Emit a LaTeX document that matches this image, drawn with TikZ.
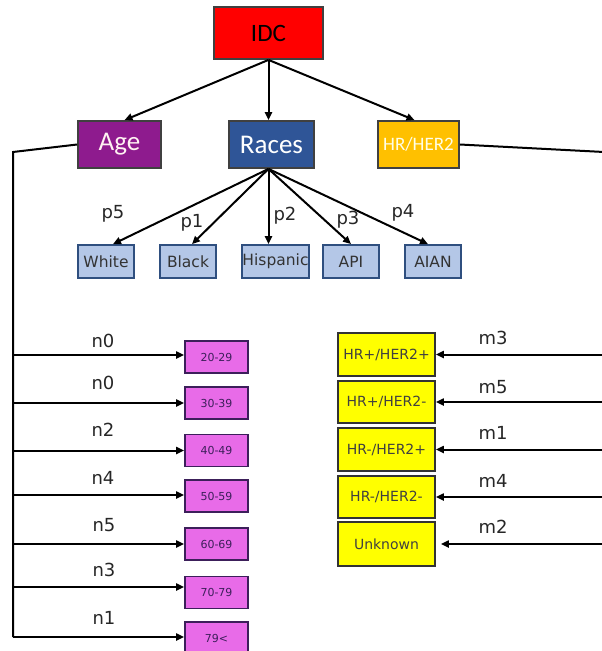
\documentclass[tikz,border=0pt]{standalone}
\usepackage{fontspec}
\setmainfont{Carlito}
\newfontfamily\dvfont{DejaVu Sans}
\usetikzlibrary{arrows.meta}

\definecolor{idcred}{HTML}{FF0000}
\definecolor{agepurple}{HTML}{8E1B8E}
\definecolor{raceblue}{HTML}{2F5597}
\definecolor{hrorange}{HTML}{FFC000}
\definecolor{racefill}{HTML}{B4C7E7}
\definecolor{raceline}{HTML}{2F4F7F}
\definecolor{grpfill}{HTML}{E86BE8}
\definecolor{grpline}{HTML}{3C1F5A}
\definecolor{hrfill}{HTML}{FFFF00}

\begin{document}
\begin{tikzpicture}[x=1pt,y=1pt]
	\tikzstyle{every node}+=[inner sep=0pt]
	\tikzstyle{topbox}=[draw=black!75, line width=1.8pt]
	\tikzstyle{racebox}=[draw=raceline, fill=racefill, line width=1.8pt, minimum width=56, minimum height=33, font=\dvfont\fontsize{15.5}{15.5}\selectfont, text=black!80]
	\tikzstyle{agebox}=[draw=grpline, fill=grpfill, line width=1.8pt, minimum width=63, minimum height=32, font=\dvfont\fontsize{11}{11}\selectfont, text=grpline]
	\tikzstyle{hrbox}=[draw=black!80, fill=hrfill, line width=1.8pt, minimum width=97, minimum height=43, font=\dvfont\fontsize{14}{14}\selectfont, text=black!75]
	\tikzstyle{lbl}=[font=\dvfont\fontsize{18}{18}\selectfont, text=black!85]
	\tikzstyle{arr}=[black, line width=2pt, -{Triangle[length=8pt,width=7pt]}]
	\tikzstyle{line}=[black, line width=2pt]
	\useasboundingbox (0,0) rectangle (602,-651);
	\clip (0,0) rectangle (602,-651);
	% top level
	\node [topbox, fill=idcred, minimum width=109, minimum height=52] (idc) at (268.5,-33) {\fontsize{25}{25}\selectfont IDC};
	\node [topbox, fill=agepurple, minimum width=83, minimum height=47, text=pink!20] (age) at (119.5,-144.5) {\fontsize{27}{27}\selectfont Age};
	\node [topbox, fill=raceblue, minimum width=85, minimum height=47, text=white] (races) at (271.5,-144.5) {\fontsize{27}{27}\selectfont Races};
	\node [topbox, fill=hrorange, minimum width=81, minimum height=47, text=yellow!10] (hr) at (418.5,-144.5) {\fontsize{19}{19}\selectfont HR/HER2};
	\draw [arr] (idc.south) -- ([xshift=5]age.north);
	\draw [arr] (idc.south) -- (idc.south |- races.north);
	\draw [arr] (idc.south) -- ([xshift=-4]hr.north);
	% races
	\node [racebox] (white) at (106,-261.5) {White};
	\node [racebox] (black) at (188,-261.5) {Black};
	\node [racebox, minimum width=67] (hisp) at (275.5,-261.5) {Hispanic};
	\node [racebox] (api) at (351,-261.5) {API};
	\node [racebox] (aian) at (433,-261.5) {AIAN};
	\coordinate (fan) at (idc.south |- races.south);
	\draw [arr] (fan) -- ([xshift=7]white.north);
	\draw [arr] (fan) -- ([xshift=4]black.north);
	\draw [arr] (fan) -- (fan |- hisp.north);
	\draw [arr] (fan) -- (api.north);
	\draw [arr] (fan) -- ([xshift=-5]aian.north);
	\node [lbl] (lp5) at (113,-214) {p5};
	\node [lbl] (lp1) at (192,-223) {p1};
	\node [lbl] (lp2) at (285,-216) {p2};
	\node [lbl] (lp3) at (348,-220) {p3};
	\node [lbl] (lp4) at (403,-213) {p4};
	% age groups
	\coordinate (ltop) at (13,-152);
	\coordinate (lbot) at (13,-637);
	\draw [line] (age.west) -- (ltop) -- (lbot);
	\node [agebox] (a20) at (216.5,-357) {20-29};
	\node [agebox] (a30) at (216.5,-403) {30-39};
	\node [agebox] (a40) at (216.5,-450.5) {40-49};
	\node [agebox] (a50) at (216.5,-496) {50-59};
	\node [agebox] (a60) at (216.5,-544) {60-69};
	\node [agebox] (a70) at (216.5,-592.5) {70-79};
	\node [agebox] (a79) at (216.5,-638) {79<};
	\draw [arr] (ltop |- 0,-355) -- (a20.west |- 0,-355);
	\draw [arr] (ltop |- a30.west) -- (a30.west);
	\draw [arr] (ltop |- a40.west) -- (a40.west);
	\draw [arr] (ltop |- 0,-495) -- (a50.west |- 0,-495);
	\draw [arr] (ltop |- a60.west) -- (a60.west);
	\draw [arr] (ltop |- 0,-587) -- (a70.west |- 0,-587);
	\draw [arr] (lbot) -- (lbot -| a79.west);
	\node [lbl] (ln1) at (103,-341) {n0};
	\node [lbl] (ln2) at (103,-383) {n0};
	\node [lbl] (ln3) at (103,-430) {n2};
	\node [lbl] (ln4) at (103,-478) {n4};
	\node [lbl] (ln5) at (104,-525) {n5};
	\node [lbl] (ln6) at (104,-570) {n3};
	\node [lbl] (ln7) at (104,-618) {n1};
	% hormone receptor groups
	\coordinate (rtop) at (604,-152);
	\coordinate (rbot) at (604,-544);
	\draw [line] (hr.east) -- (rtop) -- (rbot);
	\node [hrbox] (hpp) at (386.5,-354.5) {HR+/HER2+};
	\node [hrbox, minimum height=42] (hpn) at (386.5,-402) {HR+/HER2-};
	\node [hrbox] (hnp) at (386.5,-449.5) {HR-/HER2+};
	\node [hrbox, minimum height=42] (hnn) at (386.5,-497) {HR-/HER2-};
	\node [hrbox, minimum height=44] (unk) at (386.5,-544) {Unknown};
	\draw [arr] (rtop |- hpp.east) -- (hpp.east);
	\draw [arr] (rtop |- hpn.east) -- (hpn.east);
	\draw [arr] (rtop |- hnp.east) -- (hnp.east);
	\draw [arr] (rtop |- hnn.east) -- (hnn.east);
	\draw [arr] (rbot) -- ([xshift=5]unk.east);
	\node [lbl] (lm1) at (493,-338) {m3};
	\node [lbl] (lm2) at (493,-387) {m5};
	\node [lbl] (lm3) at (493,-433) {m1};
	\node [lbl] (lm4) at (493,-481) {m4};
	\node [lbl] (lm5) at (493,-527) {m2};
\end{tikzpicture}
\end{document}
